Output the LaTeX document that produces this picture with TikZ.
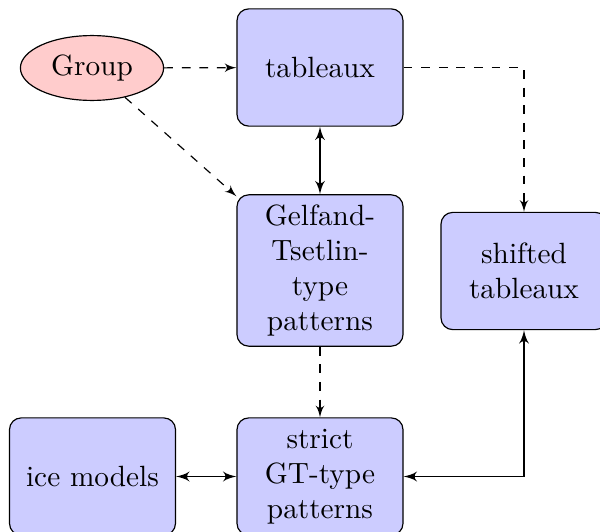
\documentclass[tikz,border=0pt]{standalone}
\usetikzlibrary{shapes.geometric,arrows}
\begin{document}
\begin{tikzpicture}[x=0.3413pt,y=-0.3413pt,>=latex',
  block/.style={rectangle, draw, fill=blue!20, text width=5em, align=center,
    rounded corners, minimum height=4em},
  cloud/.style={ellipse, draw, fill=red!20},
  link/.style={draw, semithick, <->},
  hint/.style={draw, dashed, ->}]
  \useasboundingbox (0,0) rectangle (600,531);
  % nodes
  \node[cloud] (group) at (92,68) {Group};
  \node[block] (tab) at (320,67.5) {tableaux};
  \node[block] (gt) at (320,270.5) {Gelfand-Tsetlin-type patterns};
  \node[block] (shift) at (524,271) {shifted tableaux};
  \node[block] (strict) at (320,476.5) {strict GT-type patterns};
  \node[block] (ice) at (92.5,476.5) {ice models};
  % connectors
  \path[hint] (group) -- (tab);
  \path[hint] (group) -- (gt);
  \path[hint] (tab) -| (shift);
  \path[hint] (gt) -- (strict);
  \path[link] (tab) -- (gt);
  \path[link] (ice) -- (strict);
  \path[link] (strict) -| (shift);
\end{tikzpicture}
\end{document}
